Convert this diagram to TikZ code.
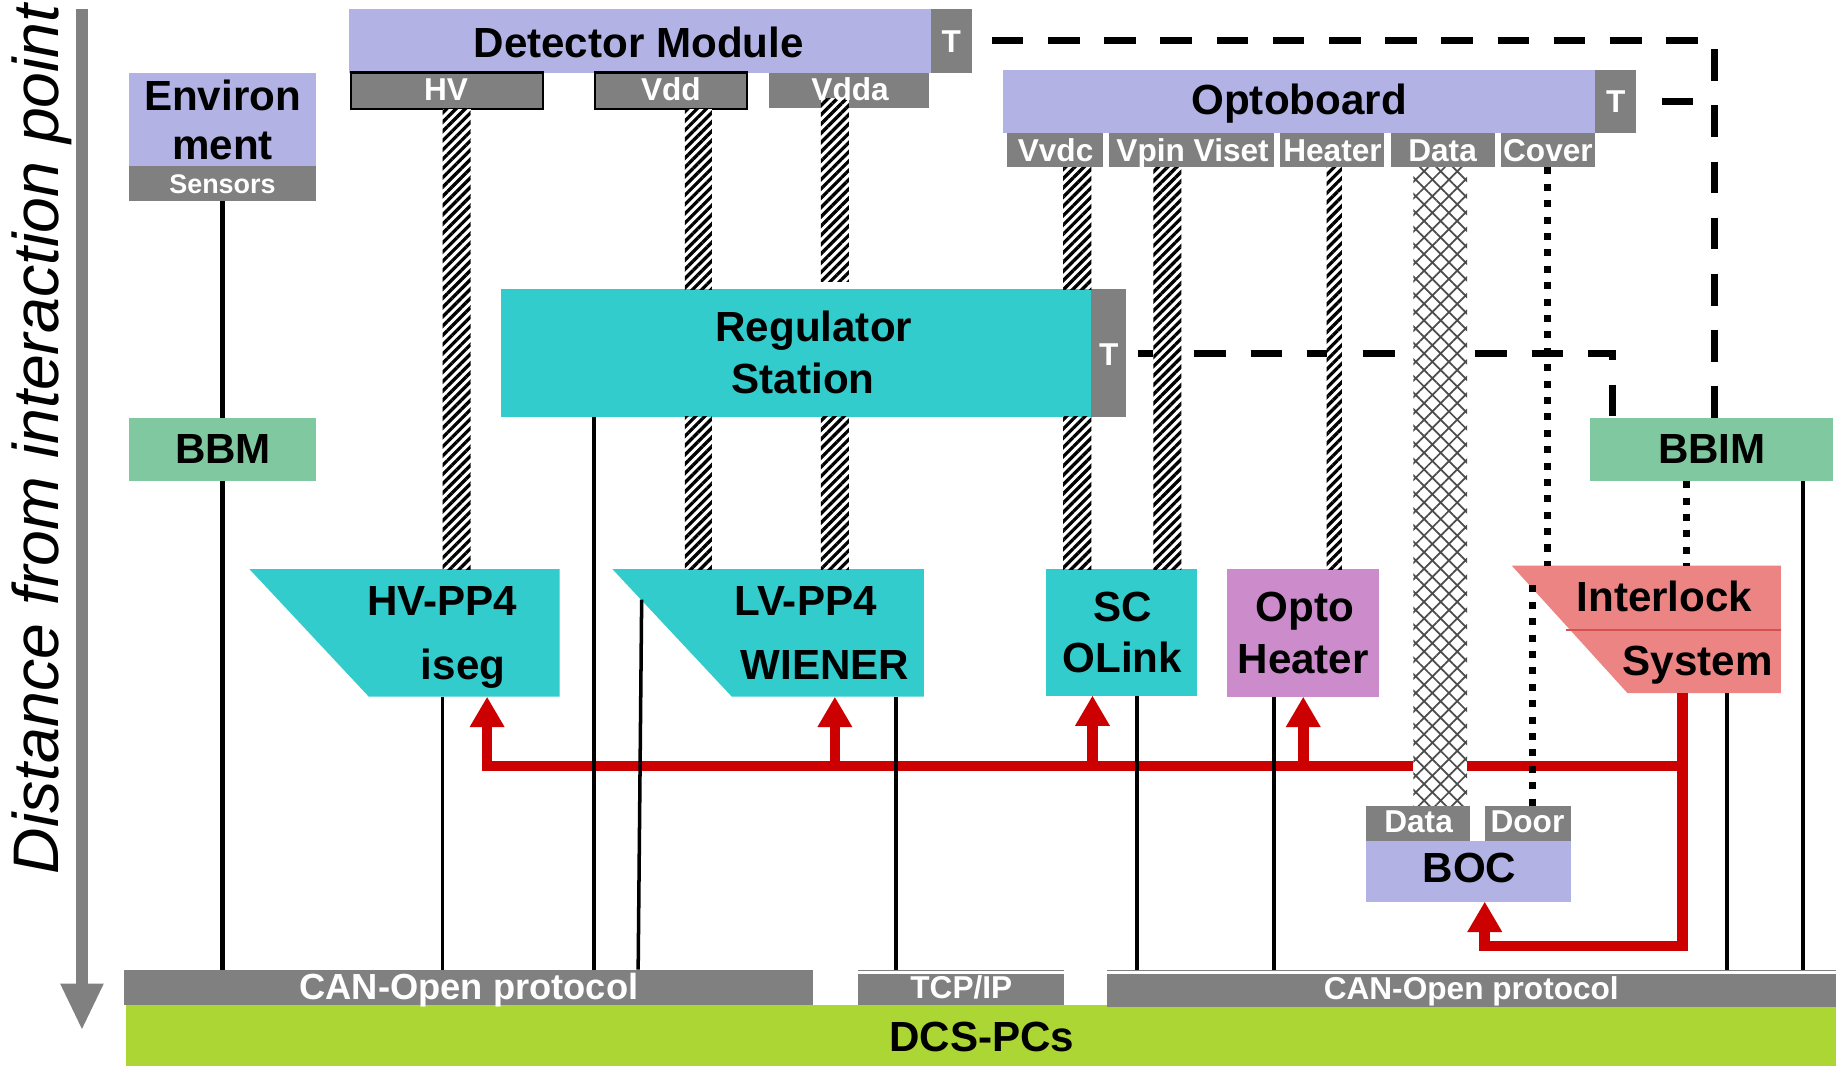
\documentclass[tikz,border=0pt]{standalone}
\usepackage{fontspec}
\setmainfont{Liberation Sans}
\usetikzlibrary{arrows.meta,patterns.meta,fit,calc}
\definecolor{boxblue}{RGB}{178,178,228}
\definecolor{boxgreen}{RGB}{128,200,160}
\definecolor{boxpurple}{RGB}{204,140,204}
\definecolor{boxsalmon}{RGB}{236,132,132}
\definecolor{limebar}{RGB}{172,214,52}
\definecolor{cyanbox}{RGB}{51,204,204}
\definecolor{lblgray}{RGB}{128,128,128}
\definecolor{redline}{RGB}{204,0,0}
\definecolor{ilmidc}{RGB}{214,80,80}
\newcommand\myfs[1]{\fontsize{#1}{#1}\selectfont}
\begin{document}
\begin{tikzpicture}[x=1pt,y=-1pt,
  rbox/.style={inner sep=0pt, outer sep=0pt, draw=none},
  lbl/.style={rbox, fill=lblgray},
  big/.style={inner sep=0pt, outer sep=0pt, anchor=base, font=\bfseries\myfs{36}, text=black},
  tl/.style={inner sep=0pt, outer sep=0pt, anchor=base, font=\bfseries\myfs{27}, text=white},
  conn/.style={line width=3.6pt, black},
  connthin/.style={line width=3pt, black},
  dashl/.style={line width=6pt, black, dash pattern=on 27pt off 21pt},
  dotl/.style={line width=6pt, black, dash pattern=on 6pt off 8pt},
  redl/.style={line width=9pt, redline, line join=miter},
  redtip/.style={-{Triangle[width=28pt,length=26pt]}},
  cable/.style={rbox, preaction={fill=white}, pattern={Lines[angle=45,distance=5.6pt,line width=2.8pt]}, pattern color=black},
  xcable/.style={rbox, preaction={fill=white}, pattern={Hatch[angle=45,distance=10pt,line width=1.5pt]}, pattern color=black!70}
]
\useasboundingbox (0,0) rectangle (1568,910);
\fill[white] (0,0) rectangle (1568,910);

% x positions
\coordinate (x378) at (378,0);
\coordinate (x402) at (402,0);
\coordinate (x416) at (416,0);
\coordinate (x507) at (507,0);
\coordinate (x545) at (545,0);
\coordinate (x585) at (585,0);
\coordinate (x608) at (608,0);
\coordinate (x713) at (713,0);
\coordinate (x765) at (765,0);
\coordinate (x908) at (908,0);
\coordinate (x932) at (932,0);
\coordinate (x933) at (933,0);
\coordinate (x971) at (971,0);
\coordinate (x985) at (985,0);
\coordinate (x1009) at (1009,0);
\coordinate (x1088) at (1088,0);
\coordinate (x1113) at (1113,0);
\coordinate (x1133) at (1133,0);
\coordinate (x1146) at (1146,0);
\coordinate (x1207) at (1207,0);
\coordinate (x1253) at (1253,0);
\coordinate (x1268) at (1268,0);
\coordinate (x1377) at (1377,0);
\coordinate (x1440) at (1440,0);
\coordinate (x1464) at (1464,0);
\coordinate (x1475) at (1475,0);
\coordinate (x1540) at (1540,0);

% axis
\coordinate (axtop) at (70,8);
\coordinate (axbot) at (70,880);
\draw[line width=10pt, lblgray, -{Triangle[width=34pt,length=40pt]}] (axtop) -- (axbot);
\node[rotate=90, anchor=base, inner sep=0pt, font=\itshape\myfs{55}] (dist) at (50,375) {Distance from interaction point};

% boxes
\node[rbox, fill=boxblue, fit={(298,8) (795,62)}] (det) {};
\node[lbl, fit={(795,8) (830,62)}] (detT) {};
\node[lbl, draw=black, line width=2pt, fit={(300,62) (464,93)}] (hvL) {};
\node[lbl, draw=black, line width=2pt, fit={(508,62) (638,93)}] (vddL) {};
\node[lbl, fit={(657,62) (793,92)}] (vddaL) {};
\node[rbox, fill=boxblue, fit={(110,62) (270,142)}] (env) {};
\node[lbl, fit={(110,142) (270,172)}] (sens) {};
\node[rbox, fill=boxblue, fit={(857,60) (1362,114)}] (opto) {};
\node[lbl, fit={(1362,60) (1397,114)}] (optoT) {};
\node[lbl, fit={(860,114) (942,143)}] (vvdcL) {};
\node[lbl, fit={(947,114) (1088,143)}] (vpinL) {};
\node[lbl, fit={(1093,114) (1182,143)}] (heatL) {};
\node[lbl, fit={(1188,114) (1277,143)}] (dataL) {};
\node[lbl, fit={(1282,114) (1362,143)}] (covL) {};
\node[rbox, fill=cyanbox, fit={(428,247) (932,356)}] (reg) {};
\node[lbl, fit={(932,247) (962,356)}] (regT) {};
\node[rbox, fill=boxgreen, fit={(110,357) (270,411)}] (bbm) {};
\node[rbox, fill=boxgreen, fit={(1358,357) (1565,411)}] (bbim) {};
\node[rbox, fit={(213,486) (478,595)}] (hvpp) {};
\node[rbox, fit={(523,486) (789,595)}] (lvpp) {};
\node[rbox, fill=cyanbox, fit={(893,486) (1022,594)}] (sc) {};
\node[rbox, fill=boxpurple, fit={(1048,486) (1178,595)}] (oh) {};
\node[rbox, fit={(1291,483) (1521,592)}] (il) {};
\node[lbl, fit={(1167,688) (1255,718)}] (bocData) {};
\node[lbl, fit={(1268,688) (1342,719)}] (bocDoor) {};
\node[rbox, fill=boxblue, fit={(1167,718) (1342,770)}] (boc) {};
\node[rbox, fill=limebar, fit={(108,858) (1568,910)}] (dcs) {};
\node[lbl, fit={(106,828) (694,858)}] (canL) {};
\node[lbl, fit={(733,828) (909,858)}] (tcp) {};
\node[lbl, fit={(945,828) (1568,860)}] (canR) {};
\draw[white, line width=1.8pt] ($(tcp.north west)+(0,2.5)$) -- ($(tcp.north east)+(0,2.5)$);
\draw[white, line width=1.8pt] ($(canR.north west)+(0,2.5)$) -- ($(canR.north east)+(0,2.5)$);

% trapezoids
\fill[cyanbox] (hvpp.north west) -- (hvpp.north east) -- (hvpp.south east) -- ([xshift=102pt]hvpp.south west) -- cycle;
\fill[cyanbox] (lvpp.north west) -- (lvpp.north east) -- (lvpp.south east) -- ([xshift=102pt]lvpp.south west) -- cycle;
\fill[boxsalmon] (il.north west) -- (il.north east) -- (il.south east) -- ([xshift=99pt]il.south west) -- cycle;
\coordinate (ilm) at (1337,538);
\draw[line width=1pt, ilmidc] (ilm) -- (ilm -| il.east);

% red interlock lines
\coordinate (bus) at (1437,654);
\coordinate (rb) at (1437,808);
\draw[redl, redtip] (bus) -- (bus -| x416) -- (x416 |- hvpp.south);
\draw[redl, redtip] (bus -| x713) -- (x713 |- lvpp.south);
\draw[redl, redtip] (bus -| x933) -- (x933 |- sc.south);
\draw[redl, redtip] (bus -| x1113) -- (x1113 |- oh.south);
\draw[redl, redtip] (il.south -| bus) -- (rb) -- (rb -| x1268) -- (x1268 |- boc.south);

% dashed temperature lines
\draw[dashl, dash phase=31pt] (detT.east) -- (detT.east -| x1464) -- (x1464 |- bbim.north);
\draw[dashl, dash pattern=on 0pt off 22pt on 27pt off 200pt] (optoT.east) -- (optoT.east -| x1464);
\draw[dashl, dash phase=38pt] (regT.east) -- (regT.east -| x1377) -- (x1377 |- bbim.north);

% black connectors
\coordinate (lvStart) at (548,512);
\draw[conn] (sens.south) -- (bbm.north);
\draw[conn] (bbm.south) -- (bbm.south |- canL.north);
\draw[connthin] (hvpp.south -| x378) -- (x378 |- canL.north);
\draw[conn] (reg.south -| x507) -- (x507 |- canL.north);
\draw[connthin] (lvStart) -- (x545 |- canL.north);
\draw[connthin] (lvpp.south -| x765) -- (x765 |- tcp.north);
\draw[connthin] (sc.south -| x971) -- (x971 |- canR.north);
\draw[connthin] (oh.south -| x1088) -- (x1088 |- canR.north);
\draw[connthin] (il.south -| x1475) -- (x1475 |- canR.north);
\draw[conn] (bbim.south -| x1540) -- (x1540 |- canR.north);

% dotted lines
\coordinate (doorStart) at (1309,500);
\draw[dotl] (covL.south) -- (covL.south |- il.north);
\draw[dotl] (doorStart) -- (doorStart |- bocDoor.north);
\draw[dotl] (bbim.south -| x1440) -- (x1440 |- il.north);

% cables
\coordinate (vddaTop) at (701,84);
\coordinate (vddaBot) at (725,240);
\node[cable, fit={(hvL.south -| x378) (hvpp.north -| x402)}] (cHV) {};
\node[cable, fit={(vddL.south -| x585) (reg.north -| x608)}] (cVdd1) {};
\node[cable, fit={(reg.south -| x585) (lvpp.north -| x608)}] (cVdd2) {};
\node[cable, fit={(vddaTop) (vddaBot)}] (cVdda1) {};
\node[cable, fit={(reg.south -| vddaTop) (lvpp.north -| vddaBot)}] (cVdda2) {};
\node[cable, fit={(vvdcL.south -| x908) (reg.north -| x932)}] (cVvdc1) {};
\node[cable, fit={(reg.south -| x908) (sc.north -| x932)}] (cVvdc2) {};
\node[cable, fit={(vpinL.south -| x985) (sc.north -| x1009)}] (cVpin) {};
\node[cable, fit={(heatL.south -| x1133) (oh.north -| x1146)}] (cHeat) {};
\node[xcable, fit={(dataL.south -| x1207) (bocData.north -| x1253)}] (cData) {};

% texts
\node[big] (tDet) at (545.5,49) {Detector Module};
\node[tl] (tDetT) at (812.5,45) {T};
\node[tl] (tHV) at (381,86) {HV};
\node[tl] (tVdd) at (573,86) {Vdd};
\node[tl] (tVdda) at (726,86) {Vdda};
\node[big] (tEnv1) at (190,94) {Environ};
\node[big] (tEnv2) at (190,136) {ment};
\node[tl, font=\bfseries\myfs{23}] (tSens) at (190,165) {Sensors};
\node[big] (tOpto) at (1109.5,98) {Optoboard};
\node[tl] (tOptoT) at (1380,96) {T};
\node[tl] (tVvdc) at (901.5,138) {Vvdc};
\node[tl] (tVpin) at (1018.5,138) {Vpin Viset};
\node[tl] (tHeat) at (1138,138) {Heater};
\node[tl] (tData) at (1232,138) {Data};
\node[tl] (tCov) at (1322,138) {Cover};
\node[big] (tReg1) at (695,292) {Regulator};
\node[big] (tReg2) at (686,336) {Station};
\node[tl] (tRegT) at (947,312) {T};
\node[big] (tBBM) at (190.5,396) {BBM};
\node[big] (tBBIM) at (1462,396) {BBIM};
\node[big] (tHV1) at (377.5,526) {HV-PP4};
\node[big] (tHV2) at (395.5,580) {iseg};
\node[big] (tLV1) at (688,526) {LV-PP4};
\node[big] (tLV2) at (704.5,580) {WIENER};
\node[big] (tSC1) at (958.5,531) {SC};
\node[big] (tSC2) at (958.5,574) {OLink};
\node[big] (tOH1) at (1114.5,531) {Opto};
\node[big] (tOH2) at (1113,575) {Heater};
\node[big] (tIL1) at (1421.5,522) {Interlock};
\node[big] (tIL2) at (1450,577) {System};
\node[tl] (tBD) at (1211.5,711) {Data};
\node[tl] (tBDo) at (1304.5,711) {Door};
\node[big] (tBOC) at (1255,754) {BOC};
\node[tl, font=\bfseries\myfs{31}] (tCanL) at (400.5,854) {CAN-Open protocol};
\node[tl] (tTcp) at (821,852.5) {TCP/IP};
\node[tl] (tCanR) at (1256.5,854) {CAN-Open protocol};
\node[big] (tDcs) at (838.5,898) {DCS-PCs};
\end{tikzpicture}
\end{document}
